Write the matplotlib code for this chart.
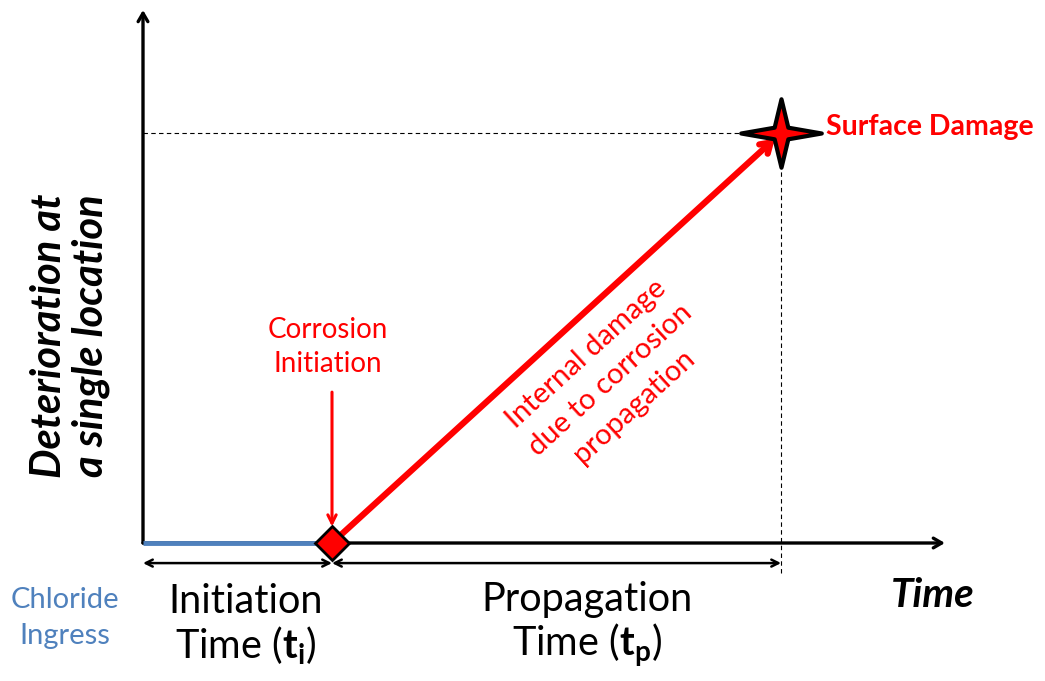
import numpy as np
import matplotlib.pyplot as plt
from matplotlib.path import Path

plt.rcParams['font.family'] = ['Lato', 'DejaVu Sans']
plt.rcParams['mathtext.fontset'] = 'custom'
plt.rcParams['mathtext.rm'] = 'Lato'
plt.rcParams['mathtext.bf'] = 'Lato:bold'

# schematic values (time units: initiation time = 1, damage at surface = 1)
t_init = 1.0
t_surface = 3.376
damage_surface = 1.0
x_axis_end = 4.243
y_axis_end = 1.30
phase_bounds = [0.0, t_init, t_surface]
phase_labels = ['Initiation\nTime ($\\mathbf{t_i}$)', 'Propagation\nTime ($\\mathbf{t_p}$)']
phase_label_x = [0.545, 2.349]

RED = '#ff0000'
BLUE = '#4f81bd'

fig = plt.figure(figsize=(10.45, 6.81), dpi=100)
ax = fig.add_axes([0, 0, 1, 1])
ax.set_xlim(-143 / 189, (1045 - 143) / 189)
ax.set_ylim(-138 / 410, (681 - 138) / 410)
ax.axis('off')

# axes arrows
ax.annotate('', xy=(0, y_axis_end), xytext=(0, 0),
            arrowprops=dict(arrowstyle='->,head_length=0.6,head_width=0.35', lw=2.4, color='black',
                            shrinkA=0, shrinkB=0))
ax.annotate('', xy=(x_axis_end, 0), xytext=(0, 0),
            arrowprops=dict(arrowstyle='->,head_length=0.6,head_width=0.35', lw=2.4, color='black',
                            shrinkA=0, shrinkB=0))

# chloride ingress segment
ax.plot([0, t_init], [0, 0], color=BLUE, lw=3.5, solid_capstyle='butt', zorder=3)

# dashed guide lines
ax.plot([0, t_surface], [damage_surface, damage_surface], color='black', lw=0.8, ls=(0, (4, 3)))
ax.plot([t_surface, t_surface], [damage_surface, -0.073], color='black', lw=0.8, ls=(0, (4, 3)))

# propagation arrow
ax.annotate('', xy=(t_surface, damage_surface), xytext=(t_init, 0),
            arrowprops=dict(arrowstyle='->,head_length=0.7,head_width=0.45', lw=4.5, color=RED,
                            shrinkA=0, shrinkB=6), zorder=4)

# dimension arrows
for a, b in zip(phase_bounds[:-1], phase_bounds[1:]):
    ax.annotate('', xy=(b, -0.049), xytext=(a, -0.049),
                arrowprops=dict(arrowstyle='<->,head_length=0.5,head_width=0.25', lw=1.8,
                                color='black', shrinkA=0, shrinkB=0))

# corrosion initiation arrow
ax.annotate('', xy=(t_init, 0.04), xytext=(t_init, 0.368),
            arrowprops=dict(arrowstyle='->,head_length=0.6,head_width=0.3', lw=2.2, color=RED,
                            shrinkA=0, shrinkB=0))

# markers
ax.plot(t_init, 0, marker='D', ms=17, mfc=RED, mec='black', mew=2, zorder=6)
ang = np.arange(8) * np.pi / 4
rad = np.where(np.arange(8) % 2 == 0, 1.0, 0.24)
star = np.column_stack([rad * np.cos(ang), 0.85 * rad * np.sin(ang)])
star = Path(np.vstack([star, star[:1]]), closed=True)
ax.plot(t_surface, damage_surface, marker=star, ms=58, mfc=RED, mec='black', mew=3, zorder=6)

# texts
ax.text(3.614, 1.015, 'Surface Damage', color=RED, fontsize=20.5, fontweight='bold',
        ha='left', va='center')
ax.text(0.979, 0.478, 'Corrosion\nInitiation', color=RED, fontsize=20, ha='center',
        va='center', linespacing=1.35)
ax.text(2.471, 0.398, 'Internal damage\ndue to corrosion\npropagation', color=RED, fontsize=21,
        ha='center', va='center', rotation=42.4, rotation_mode='anchor', linespacing=1.45)
ax.text(-0.386, 0.505, 'Deterioration at\na single location', color='black', fontsize=30,
        fontweight='bold', fontstyle='italic', rotation=90, ha='center', va='center',
        linespacing=1.1)
ax.text(4.18, -0.129, 'Time', fontsize=29, fontweight='bold', fontstyle='italic',
        ha='center', va='center')
for x, lab in zip(phase_label_x, phase_labels):
    ax.text(x, -0.2, lab, fontsize=28.5, ha='center', va='center', linespacing=1.12)
ax.text(-0.413, -0.183, 'Chloride\nIngress', color=BLUE, fontsize=21, ha='center',
        va='center', linespacing=1.5)

fig.savefig('out.png', dpi=100)
